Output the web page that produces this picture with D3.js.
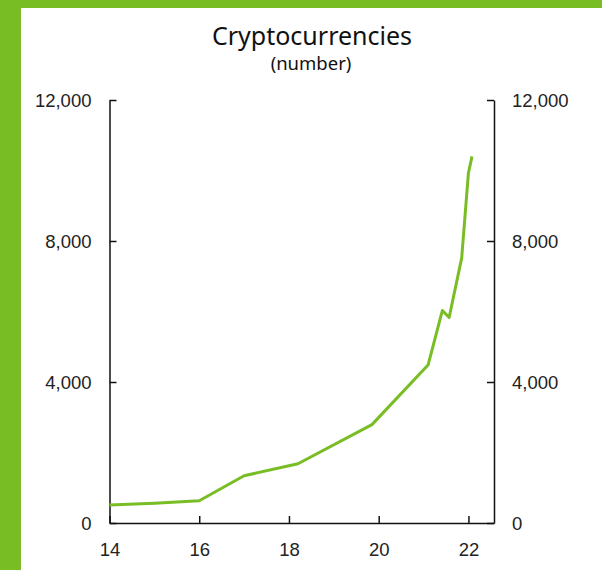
<!DOCTYPE html>
<html lang="en">
  <head>
    <meta charset="utf-8">
    <title>Cryptocurrencies</title>
    <script src="https://unpkg.com/d3@7/dist/d3.min.js"></script>
    <style type="text/css">
body,html{
    margin: 0;
    padding: 0;
    background: #fff;
  }
.axis text{
    font-family: "Liberation Sans", Arial, sans-serif;
    font-size: 18.5px;
    fill: #222;
  }
    </style>
  </head>
  <body>
    <script type="text/javascript">
      // chart data
      const years = [14, 15, 16, 17, 18.2, 19.85, 21.1, 21.42, 21.57, 21.85, 22.0, 22.08];
      const counts = [510, 560, 630, 1340, 1680, 2790, 4480, 6030, 5830, 7520, 9930, 10400];
      const xTicks = [14, 16, 18, 20, 22];
      const yTicks = [0, 4000, 8000, 12000];

      const w = 602;
      const h = 570;
      const green = "#79bd25";

      const margin = {top: 100, bottom: 47, left: 109.5, right: 108};

      const svg = d3.select("body")
        .append("svg")
        .attr("width", w)
        .attr("height", h);

      // green frame on left and top
      svg.append("rect").attr("x", 0).attr("y", 0).attr("width", w).attr("height", h).attr("fill", green);
      svg.append("rect").attr("x", 21).attr("y", 8).attr("width", w - 21).attr("height", h - 8).attr("fill", "#fff");

      const x = d3.scaleLinear()
        .domain([14, 22.57])
        .range([margin.left, w - margin.right]);

      const y = d3.scaleLinear()
        .domain([0, 12000])
        .range([h - margin.bottom, margin.top]);

      const fmt = d3.format(",");

      const g = svg.append("g");

      // left axis, ticks inward
      g.append("g")
        .attr("class", "axis")
        .attr("transform", `translate(${x.range()[0]},0)`)
        .call(d3.axisLeft(y).tickValues(yTicks).tickFormat(fmt).tickSizeInner(-7).tickSizeOuter(0).tickPadding(18))
        .call(a => a.selectAll("text").attr("dy", "0.36em"));

      // right axis, ticks inward
      g.append("g")
        .attr("class", "axis")
        .attr("transform", `translate(${x.range()[1]},0)`)
        .call(d3.axisRight(y).tickValues(yTicks).tickFormat(fmt).tickSizeInner(-7).tickSizeOuter(0).tickPadding(18))
        .call(a => a.selectAll("text").attr("dy", "0.36em"));

      // bottom axis
      g.append("g")
        .attr("class", "axis")
        .attr("transform", `translate(0,${y(0)})`)
        .call(d3.axisBottom(x).tickValues(xTicks).tickSizeInner(-7).tickSizeOuter(0).tickPadding(20));

      g.selectAll(".axis path, .axis line")
        .attr("stroke", "#111")
        .attr("stroke-width", 1.5);

      // the series
      const pts = years.map((yr, i) => [yr, counts[i]]);
      const line = d3.line()
        .x(d => x(d[0]))
        .y(d => y(d[1]));

      svg.append("path")
        .datum(pts)
        .attr("d", line)
        .attr("fill", "none")
        .attr("stroke", green)
        .attr("stroke-width", 3)
        .attr("stroke-linejoin", "round");

      // titles
      svg.append("text")
        .attr("x", 312)
        .attr("y", 45)
        .attr("text-anchor", "middle")
        .style("font-family", "'Noto Sans', sans-serif")
        .style("font-size", "25px")
        .attr("fill", "#111")
        .text("Cryptocurrencies");

      svg.append("text")
        .attr("x", 311)
        .attr("y", 70)
        .attr("text-anchor", "middle")
        .style("font-family", "'Noto Sans', sans-serif")
        .style("font-size", "18.5px")
        .attr("fill", "#111")
        .text("(number)");
    </script>
  </body>
</html>
